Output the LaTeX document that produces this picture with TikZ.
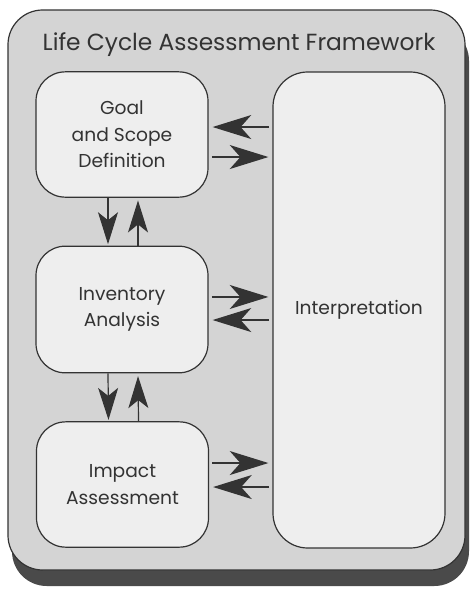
\documentclass[tikz,border=0pt]{standalone}
\usepackage{fontspec}
\setmainfont{Poppins}
\usetikzlibrary{arrows.meta}
\definecolor{inkgray}{HTML}{333333}
\definecolor{framegray}{HTML}{D4D4D4}
\definecolor{boxwhite}{HTML}{EEEEEE}
\definecolor{shadowgray}{HTML}{4A4A4A}
\begin{document}
\begin{tikzpicture}
		[x=0.75pt,y=-0.75pt,
		stage/.style={draw=inkgray,line width=0.9pt,fill=boxwhite,rounded corners=22pt,
			minimum width=129pt,align=center,text=inkgray,
			font=\fontsize{14}{20}\selectfont},
		flow/.style={draw=inkgray,line width=0.9pt,
			-{Stealth[length=29pt,width=18pt,inset=8pt]},
			shorten >=3pt,shorten <=2.5pt},
		vflow/.style={flow,-{Stealth[length=24pt,width=15pt,inset=6pt]}}]
		\useasboundingbox (0,0) rectangle (470,589);
		% frame with its shadow
		\fill[shadowgray,rounded corners=26pt] (12,26) rectangle (469,586);
		\draw[inkgray,line width=0.9pt,fill=framegray,rounded corners=26pt] (8,10) rectangle (465,570);
		\node[anchor=base,text=inkgray,font=\fontsize{17.5}{20}\selectfont,name=title] at (239,50)
			{Life Cycle Assessment Framework};
		% the four stages
		\node[stage,minimum height=94pt,name=goal] at (122,134.5) {Goal\\and Scope\\Definition};
		\node[stage,minimum height=95pt,name=inv] at (122,309.5) {Inventory\\Analysis};
		\node[stage,minimum height=94pt,name=imp] at (122.5,484.5) {Impact\\Assessment};
		\node[stage,minimum height=357pt,rounded corners=26pt,name=interp] at (359,310) {Interpretation};
		% links to interpretation
		\coordinate (g1) at ([yshift=5.6pt]goal.east);
		\coordinate (g2) at ([yshift=-16.9pt]goal.east);
		\coordinate (i1) at ([yshift=9.4pt]inv.east);
		\coordinate (i2) at ([yshift=-7.9pt]inv.east);
		\coordinate (m1) at ([yshift=16.1pt]imp.east);
		\coordinate (m2) at ([yshift=-1.9pt]imp.east);
		\draw[flow] (interp.west |- g1) -- (g1);
		\draw[flow] (g2) -- (interp.west |- g2);
		\draw[flow] (i1) -- (interp.west |- i1);
		\draw[flow] (interp.west |- i2) -- (i2);
		\draw[flow] (m1) -- (interp.west |- m1);
		\draw[flow] (interp.west |- m2) -- (m2);
		% links down the left column
		\foreach \a/\b in {goal/inv,inv/imp}
		{
			\draw[vflow,shorten >=1pt,shorten <=0pt] ([xshift=-10.5pt]\a.south) -- ([xshift=-10.5pt]\b.north);
			\draw[vflow,shorten >=2pt,shorten <=0pt] ([xshift=12pt]\b.north) -- ([xshift=12pt]\a.south);
		}
	\end{tikzpicture}
\end{document}
